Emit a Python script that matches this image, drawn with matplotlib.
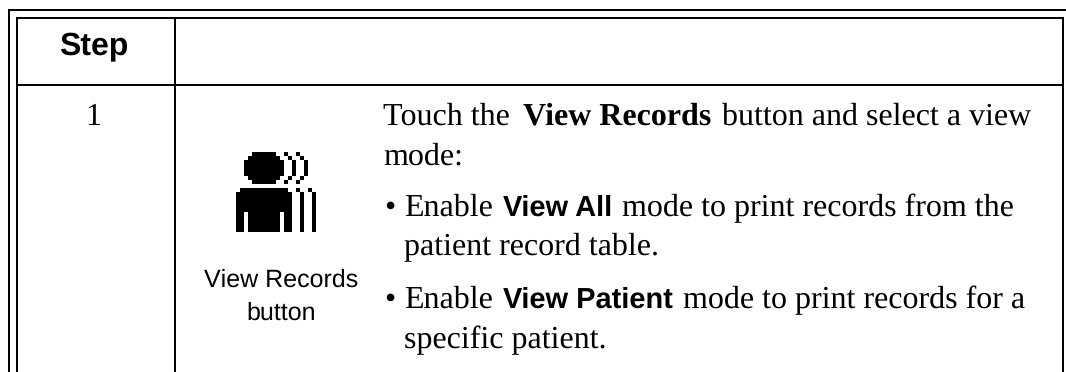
import matplotlib
matplotlib.use("Agg")
import matplotlib.pyplot as plt
from matplotlib.patches import Rectangle

plt.rcParams["text.hinting"] = "no_hinting"
plt.rcParams["text.hinting_factor"] = 1

W, H = 1066, 372
header_label = "Step"
step_label = "1"
caption_lines = ["View Records", "button"]
SERIF, SANS = "Liberation Serif", "Liberation Sans"

# (baseline y, [(start x, text, family, weight), ...])
body_lines = [
    (125, [(383, "Touch the", SERIF, "normal"), (523, "View Records", SERIF, "bold"),
           (722, "button and select a view", SERIF, "normal")]),
    (165, [(383, "mode:", SERIF, "normal")]),
    (216, [(384, "\u2022", SERIF, "normal"), (404, "Enable", SERIF, "normal"), (503, "View All", SANS, "bold"),
           (622, "mode to print records from the", SERIF, "normal")]),
    (255, [(404, "patient record table.", SERIF, "normal")]),
    (308, [(384, "\u2022", SERIF, "normal"), (404, "Enable", SERIF, "normal"), (503, "View Patient", SANS, "bold"),
           (683, "mode to print records for a", SERIF, "normal")]),
    (348, [(404, "specific patient.", SERIF, "normal")]),
]

# Icon bitmap: each row lists the filled column spans
icon_rows = {
    0: [(4, 9), (12, 12), (15, 15)],
    1: [(3, 10), (13, 13), (16, 16)],
    2: [(2, 11), (14, 14), (17, 17)],
    3: [(2, 11), (14, 14), (17, 17)],
    4: [(2, 11), (14, 14), (17, 17)],
    5: [(2, 11), (14, 14), (17, 17)],
    6: [(3, 10), (13, 13), (16, 16)],
    7: [(4, 9), (12, 12), (15, 15)],
    9: [(1, 12), (15, 15), (18, 18)],
    10: [(0, 13), (16, 16), (19, 19)],
    11: [(0, 13), (16, 16), (19, 19)],
    12: [(0, 13), (16, 16), (19, 19)],
    13: [(0, 13), (16, 16), (19, 19)],
    14: [(0, 13), (16, 16), (19, 19)],
    15: [(0, 1), (3, 10), (12, 13), (16, 16), (19, 19)],
    16: [(0, 1), (3, 10), (12, 13), (16, 16), (19, 19)],
    17: [(0, 1), (3, 10), (12, 13), (16, 16), (19, 19)],
    18: [(0, 1), (3, 10), (12, 13), (16, 16), (19, 19)],
    19: [(0, 1), (3, 10), (12, 13), (16, 16), (19, 19)],
}
ICON_X, ICON_Y, PX = 236, 152, 4

fig = plt.figure(figsize=(W / 100, H / 100), dpi=100, facecolor="white")
ax = fig.add_axes([0, 0, 1, 1])
ax.set_xlim(0, W)
ax.set_ylim(H, 0)
ax.axis("off")


def box(x0, y0, x1, y1):
    ax.add_patch(Rectangle((x0, y0), x1 - x0, y1 - y0, fc="black", ec="none", antialiased=False))


# Outer frame (open on the right and at the bottom)
box(8, 9, W, 11)
box(8, 9, 10, H)
# Inner table
box(16, 17, 1064, 19)
box(16, 17, 18, H)
box(174, 17, 176, H)
box(16, 84, 1064, 86)
box(1062, 17, 1064, H)

ax.text(94, 54, header_label, family=SANS, weight="bold", fontsize=22.9, ha="center", va="baseline", color="black")
ax.text(93, 125, step_label, family=SERIF, fontsize=23.2, ha="center", va="baseline", color="black")

for r, spans in icon_rows.items():
    for a, b in spans:
        box(ICON_X + a * PX, ICON_Y + r * PX, ICON_X + (b + 1) * PX, ICON_Y + (r + 1) * PX)

ax.text(281.5, 287, caption_lines[0], family=SANS, fontsize=18.3, ha="center", va="baseline", color="black")
ax.text(281.5, 320, caption_lines[1], family=SANS, fontsize=18.3, ha="center", va="baseline", color="black")

for y, runs in body_lines:
    for x, s, fam, wt in runs:
        size = 20.7 if fam == SANS else (22.9 if wt == "bold" else 23.2)
        ax.text(x, y, s, family=fam, weight=wt, fontsize=size, ha="left", va="baseline", color="black")

fig.savefig("out.png", dpi=100, facecolor="white")
